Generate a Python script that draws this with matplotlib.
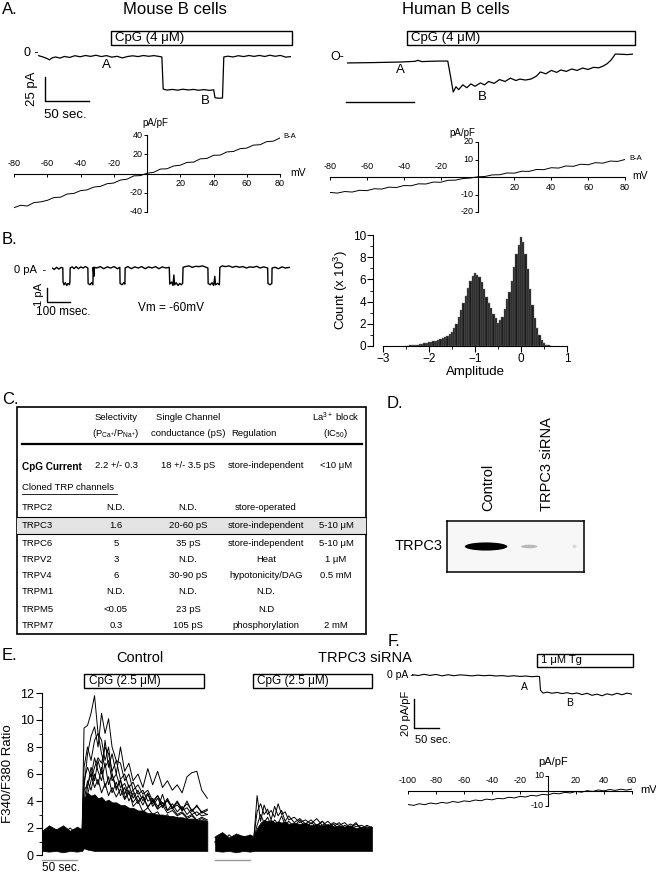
import matplotlib.pyplot as plt
from matplotlib.patches import Rectangle, Ellipse

plt.rcParams['font.family'] = ['Liberation Sans', 'DejaVu Sans']
plt.rcParams['mathtext.fontset'] = 'custom'
plt.rcParams['mathtext.rm'] = 'Liberation Sans'
plt.rcParams['mathtext.it'] = 'Liberation Sans'

# ---- A: whole-cell traces (s, pA) ----
t_mouse = [0, 5, 10, 13, 16, 20, 25, 30, 36, 42, 48, 54, 60, 66, 72, 78, 84, 90, 96, 102, 108, 114, 120,
           126, 132, 138, 141, 142.5, 147, 153, 159, 165, 171, 177, 183, 189, 195, 200, 201.5, 206, 210,
           211.5, 216, 222, 228, 234, 240, 246, 252, 258, 264, 270, 276, 282, 288]
i_mouse = [0.5, -0.8, -2.5, -4.0, -2.0, -1.0, -2.2, -0.5, -1.5, 0.3, -0.8, 0.5, -0.4, 0.8, -0.6, 0.4, -1.2,
           -0.3, -2.0, -0.5, 0.2, -0.6, 0.5, -0.3, 0.4, -0.5, -1.0, -34.5, -35.5, -34.8, -35.6, -34.6, -35.4,
           -34.8, -35.7, -35.0, -35.8, -35.2, -43.5, -44.0, -43.8, -1.0, -0.2, -1.0, 0.3, -0.6, 0.5, -0.4,
           0.6, -0.5, 0.8, -0.3, 0.6, -1.2, -0.6]

t_human = [0, 10, 20, 30, 40, 50, 52, 55, 62, 70, 74, 76, 78, 80, 82, 85, 88, 91, 94, 98, 101, 104, 108,
           112, 116, 120, 124, 127, 131, 135, 139, 142, 146, 150, 154, 157, 161, 165, 169, 173, 177, 181,
           185, 188, 191, 194, 197, 202, 206, 210]
i_human = [-6.2, -6.0, -5.8, -5.5, -5.2, -4.5, -3.5, -4.8, -4.4, -4.2, -4.3, -20, -36.5, -31, -34, -29,
           -32, -28, -30.5, -27, -29, -25.5, -27.5, -23.5, -25.5, -22, -24.5, -23, -24, -23, -20, -15.6,
           -17.5, -14, -16, -13.5, -15, -12.5, -14, -11.5, -13, -10.8, -11.2, -9.5, -7, -3, 3.1, 2.8, 2.5, 3.0]

# ---- A: I-V relations (mV, pA/pF) ----
v_ramp = list(range(-80, 81, 4))
iv_mouse = [-35.5, -33.0, -33.8, -30.2, -29.5, -27.9, -25.0, -24.6, -21.3, -20.7, -17.8, -17.0, -14.1,
            -13.4, -10.6, -9.9, -6.8, -5.9, -2.5, -2.2, 0.3, 1.2, 4.6, 4.9, 7.8, 8.6, 11.5, 11.8, 15.2,
            15.6, 18.9, 19.1, 22.4, 22.9, 25.8, 26.4, 29.5, 29.9, 33.1, 33.6, 37.0]
iv_human = [-8.8, -9.2, -8.3, -8.6, -7.6, -7.8, -6.7, -6.9, -5.8, -6.0, -4.9, -5.0, -3.9, -4.0, -2.9,
            -3.0, -1.9, -1.8, -0.9, -0.6, 0.1, 0.3, 1.2, 1.3, 2.3, 2.2, 3.3, 3.2, 4.3, 4.2, 5.3, 5.1, 6.3,
            6.1, 7.3, 7.0, 8.2, 7.9, 9.1, 8.9, 10.0]

# ---- B: single channel (ms, pA) and amplitude histogram ----
t_single = [0, 10, 20, 30, 40, 47, 48, 52, 58, 64, 70, 76, 78, 79, 88, 96, 105, 115, 125, 135, 145, 156,
            157, 165, 172, 178, 179, 182, 185, 195, 210, 225, 240, 255, 270, 285, 295, 296, 305, 312, 317,
            318, 330, 345, 360, 375, 390, 405, 420, 435, 450, 465, 480, 495, 510, 512, 520, 526, 530, 533,
            540, 548, 555, 562, 568, 570, 580, 595, 610, 625, 640, 655, 670, 678, 679, 688, 696, 703, 708,
            711, 720, 728, 730, 740, 755, 770, 785, 800, 815, 830, 845, 860, 875, 890, 905, 920, 938, 939,
            948, 956, 957, 970, 985, 1000, 1015, 1035]
i_single = [0.0, -0.1, 0.05, -0.08, 0.05, 0.0, -1.0, -1.2, -1.05, -1.25, -1.1, -1.2, -0.95, 0.0, 0.08,
            -0.05, 0.1, -0.05, 0.08, 0.0, 0.1, 0.0, -1.1, -1.2, -1.05, -1.2, 0.05, -0.6, 0.05, 0.0, 0.1,
            -0.05, 0.08, 0.0, 0.1, -0.05, 0.05, -1.1, -1.2, -1.05, -1.15, 0.0, 0.1, -0.05, 0.08, 0.0, 0.1,
            -0.05, 0.08, 0.0, 0.1, -0.05, 0.08, 0.0, 0.05, -1.15, -1.0, -1.25, -0.5, -1.2, -1.05, -1.25,
            -1.1, -1.2, -1.1, 0.05, 0.1, 0.15, 0.05, 0.12, 0.1, 0.15, 0.05, 0.0, -1.1, -1.2, -1.05, -1.25,
            -0.6, -1.2, -1.1, -1.2, 0.05, 0.15, 0.1, 0.15, 0.05, 0.12, 0.05, 0.1, 0.0, 0.08, 0.05, 0.12,
            0.0, 0.08, 0.0, -1.1, -1.2, -1.1, 0.0, 0.05, -0.05, 0.08, 0.0, 0.05]

amp_bins = [-2.50, -2.45, -2.40, -2.35, -2.30, -2.25, -2.20, -2.15, -2.10, -2.05, -2.00, -1.95, -1.90,
            -1.85, -1.80, -1.75, -1.70, -1.65, -1.60, -1.55, -1.50, -1.45, -1.40, -1.35, -1.30, -1.25,
            -1.20, -1.15, -1.10, -1.05, -1.00, -0.95, -0.90, -0.85, -0.80, -0.75, -0.70, -0.65, -0.60,
            -0.55, -0.50, -0.45, -0.40, -0.35, -0.30, -0.25, -0.20, -0.15, -0.10, -0.05, 0.00, 0.05, 0.10,
            0.15, 0.20, 0.25, 0.30, 0.35, 0.40, 0.45, 0.50, 0.55, 0.60, 0.65]
amp_counts = [0.02, 0.03, 0.05, 0.07, 0.09, 0.12, 0.15, 0.19, 0.23, 0.28, 0.33, 0.38, 0.43, 0.48, 0.53,
              0.6, 0.68, 0.78, 0.9, 1.05, 1.3, 1.6, 2.0, 2.6, 3.2, 3.9, 4.5, 5.2, 5.9, 6.3, 6.6, 6.4, 6.2,
              5.8, 5.1, 4.4, 3.9, 3.4, 2.9, 2.5, 2.1, 2.3, 2.6, 3.3, 4.2, 4.9, 5.9, 7.1, 8.3, 9.1, 9.8,
              9.4, 8.3, 6.9, 5.1, 3.7, 2.5, 1.6, 1.0, 0.55, 0.28, 0.12, 0.06, 0.02]

# ---- C: table ----
col_heads = ['Selectivity', 'Single Channel', 'Regulation', 'La$^{3+}$ block']
col_heads2 = ['(P$_{Ca^{+}}$/P$_{Na^{+}}$)', 'conductance (pS)', '', '(IC$_{50}$)']
cpg_row = ['CpG Current', '2.2 +/- 0.3', '18 +/- 3.5 pS', 'store-independent', '<10 \u03bcM']
channels = ['TRPC2', 'TRPC3', 'TRPC6', 'TRPV2', 'TRPV4', 'TRPM1', 'TRPM5', 'TRPM7']
selectivity = ['N.D.', '1.6', '5', '3', '6', 'N.D.', '<0.05', '0.3']
conductance = ['N.D.', '20-60 pS', '35 pS', 'N.D.', '30-90 pS', 'N.D.', '23 pS', '105 pS']
regulation = ['store-operated', 'store-independent', 'store-independent', 'Heat', 'hypotonicity/DAG',
              'N.D.', 'N.D', 'phosphorylation']
la_block = ['', '5-10 \u03bcM', '5-10 \u03bcM', '1 \u03bcM', '0.5 mM', '', '', '2 mM']

# ---- D: western blot band intensity per lane ----
blot_lanes = ['Control', 'TRPC3 siRNA']
band_strength = [1.0, 0.25, 0.12]

# ---- E: Fura-2 ratio traces (s) ----
t_ctrl = [0, 10, 20, 30, 40, 50, 57, 60, 65, 70, 75, 80, 85, 90, 95, 100, 106, 112, 118, 124, 130, 137,
          144, 151, 158, 165, 172, 179, 186, 193, 200, 207, 214, 221, 228, 236]
ctrl_traces = [
    [1.0, 1.2, 0.9, 1.1, 1.0, 1.2, 1.0, 9.4, 9.6, 10.5, 11.8, 9.0, 8.5, 7.0, 8.0, 6.0, 5.0, 5.5, 4.2, 4.8,
     3.6, 4.0, 3.2, 3.5, 3.0, 3.2, 2.6, 3.0, 2.5, 2.8, 2.4, 2.6, 2.2, 2.5, 2.3, 2.4],
    [0.8, 1.5, 1.2, 0.9, 1.4, 1.1, 0.9, 5.0, 7.5, 8.8, 9.5, 8.0, 10.5, 9.0, 10.1, 8.0, 7.0, 6.8, 5.5, 6.0,
     4.8, 5.2, 4.5, 4.8, 4.0, 4.4, 3.8, 4.0, 3.5, 3.7, 3.3, 3.5, 3.0, 3.2, 2.9, 3.0],
    [1.2, 0.9, 1.6, 1.3, 1.0, 1.5, 1.2, 3.5, 5.0, 6.5, 5.5, 7.0, 6.0, 8.5, 6.5, 7.5, 6.0, 8.0, 6.2, 6.8,
     5.5, 6.0, 5.0, 6.4, 5.2, 6.2, 5.0, 5.5, 4.8, 5.2, 4.6, 5.8, 6.1, 6.2, 4.8, 4.2],
    [0.6, 1.0, 0.8, 1.3, 0.7, 0.9, 0.8, 6.5, 8.0, 7.0, 8.5, 9.0, 7.5, 6.5, 7.0, 5.5, 6.0, 5.0, 5.3, 4.5,
     4.8, 4.0, 4.3, 3.6, 4.0, 3.4, 3.7, 3.1, 3.3, 2.9, 3.1, 2.7, 2.9, 2.5, 2.7, 2.5],
    [1.4, 1.1, 1.9, 1.5, 2.0, 1.6, 1.3, 4.0, 5.5, 4.8, 6.0, 5.2, 6.5, 5.0, 5.8, 4.6, 5.4, 4.4, 5.0, 4.0,
     4.6, 3.8, 4.4, 3.5, 4.1, 3.4, 4.5, 3.3, 3.8, 3.2, 3.6, 3.0, 3.4, 2.9, 3.2, 3.0],
    [0.9, 1.3, 1.0, 0.7, 1.2, 0.9, 1.1, 3.0, 4.5, 5.5, 6.5, 7.2, 6.8, 8.0, 7.5, 6.2, 7.0, 5.6, 6.0, 5.0,
     5.4, 4.5, 4.8, 4.0, 4.2, 3.6, 3.9, 3.3, 3.5, 3.0, 3.2, 2.8, 3.0, 2.6, 2.8, 2.6],
    [1.5, 1.8, 1.3, 1.9, 1.4, 1.7, 1.5, 5.5, 6.5, 5.8, 7.2, 6.2, 5.5, 6.8, 5.2, 6.0, 4.8, 5.6, 4.5, 5.2,
     4.2, 4.8, 4.0, 4.6, 3.8, 4.4, 3.6, 4.2, 3.5, 4.0, 3.4, 3.8, 3.3, 3.6, 3.2, 3.4],
    [1.1, 1.4, 1.7, 1.2, 1.6, 1.3, 1.2, 4.8, 5.2, 6.0, 5.0, 5.6, 4.6, 5.3, 4.4, 5.0, 4.3, 4.9, 4.1, 4.6,
     3.9, 4.4, 3.7, 4.5, 3.6, 4.2, 3.5, 4.1, 3.4, 3.9, 3.3, 4.0, 3.2, 3.7, 3.1, 3.3],
]
ctrl_upper = [1.8, 2.2, 1.9, 2.2, 1.8, 2.1, 1.9, 4.2, 4.6, 4.4, 4.5, 4.2, 4.3, 4.0, 4.1, 3.9, 3.9, 3.7,
              3.7, 3.5, 3.5, 3.3, 3.3, 3.1, 3.1, 3.0, 3.0, 2.9, 2.9, 2.8, 2.8, 2.7, 2.7, 2.6, 2.6, 2.5]
ctrl_lower = [0.3, 0.25, 0.3, 0.2, 0.3, 0.25, 0.3, 0.5, 0.4, 0.35, 0.3, 0.3, 0.3, 0.3, 0.3, 0.3, 0.3, 0.3,
              0.3, 0.3, 0.3, 0.3, 0.3, 0.3, 0.3, 0.3, 0.3, 0.3, 0.3, 0.3, 0.3, 0.3, 0.3, 0.3, 0.3, 0.3]

t_si = [247, 257, 267, 277, 287, 297, 302, 307, 312, 317, 322, 327, 332, 337, 342, 347, 352, 360, 368,
        376, 384, 392, 400, 408, 416, 424, 432, 440, 448, 456, 464, 471]
si_traces = [
    [1.0, 1.2, 0.9, 1.1, 1.0, 1.2, 1.0, 4.4, 2.5, 3.7, 3.0, 3.3, 2.8, 3.8, 3.0, 3.2, 2.6, 2.8, 2.4, 2.6,
     2.3, 2.7, 2.2, 2.5, 2.1, 2.4, 2.0, 2.3, 2.1, 2.2, 2.0, 2.1],
    [1.3, 0.9, 1.5, 1.0, 1.4, 1.1, 1.2, 3.2, 3.8, 3.0, 3.4, 2.6, 3.6, 2.9, 3.3, 2.5, 2.9, 2.4, 2.7, 2.3,
     2.6, 2.2, 2.5, 2.1, 2.4, 2.2, 2.4, 2.0, 2.3, 2.0, 2.2, 2.0],
    [0.9, 1.4, 1.1, 1.3, 0.8, 1.5, 1.1, 2.2, 3.0, 2.4, 2.8, 2.2, 2.6, 2.3, 2.9, 2.2, 2.5, 2.1, 2.6, 2.0,
     2.4, 2.1, 2.5, 2.0, 2.3, 1.9, 2.2, 2.0, 2.4, 1.9, 2.1, 1.9],
]
si_upper = [1.4, 1.7, 1.3, 1.6, 1.4, 1.5, 1.4, 2.0, 2.4, 2.6, 2.5, 2.6, 2.4, 2.5, 2.4, 2.5, 2.3, 2.4, 2.3,
            2.4, 2.2, 2.3, 2.2, 2.3, 2.1, 2.2, 2.1, 2.2, 2.0, 2.1, 2.0, 2.1]
si_lower = [0.3, 0.25, 0.3, 0.2, 0.3, 0.25, 0.3, 0.3, 0.3, 0.3, 0.3, 0.3, 0.3, 0.3, 0.3, 0.3, 0.3, 0.3,
            0.3, 0.3, 0.3, 0.3, 0.3, 0.3, 0.3, 0.3, 0.3, 0.3, 0.3, 0.3, 0.3, 0.3]

# ---- F: thapsigargin trace (s, pA/pF) and I-V ----
t_tg = [0, 12, 24, 36, 48, 60, 72, 84, 96, 108, 120, 132, 144, 156, 168, 180, 192, 204, 216, 228, 240,
        250, 255, 257, 262, 270, 280, 290, 300, 310, 320, 330, 340, 350, 360, 370, 380, 390, 400, 410,
        420, 430, 440]
i_tg = [0.3, -0.4, 0.5, -0.3, 0.4, -0.6, 0.2, -0.5, 0.1, -0.2, -0.6, -0.1, -0.5, -0.2, -0.7, -0.4, -0.9,
        -0.5, -1.0, -0.7, -1.2, -0.9, -1.1, -10.5, -12.5, -11.8, -12.6, -12.0, -12.8, -12.2, -13.0, -12.4,
        -13.5, -12.6, -14.0, -13.2, -14.3, -13.0, -13.8, -12.6, -13.6, -12.5, -13.2]
v_tg = list(range(-100, 61, 4))
iv_tg = [-9.0, -9.6, -8.5, -9.1, -8.0, -8.6, -7.6, -8.1, -7.0, -7.6, -6.6, -7.0, -6.0, -6.5, -5.4, -5.9,
         -4.9, -5.2, -4.2, -4.6, -3.6, -4.0, -2.9, -3.3, -2.2, -2.6, -1.5, -1.9, -0.9, -1.3, -0.3, -0.8,
         0.2, -0.3, 0.7, 0.1, 1.0, 0.4, 1.2, 0.6, 1.3]

W, H = 656, 874
fig = plt.figure(figsize=(W / 100, H / 100), dpi=100)

ov = fig.add_axes([0, 0, 1, 1])
ov.set_xlim(0, W)
ov.set_ylim(H, 0)
ov.axis('off')


def px_axes(x0, y0, x1, y1):
    return fig.add_axes([x0 / W, 1 - y1 / H, (x1 - x0) / W, (y1 - y0) / H])


def txt(x, y, s, size=9, ha='left', va='center', **kw):
    ov.text(x, y, s, fontsize=size, ha=ha, va=va, **kw)


def box(x0, y0, x1, y1, lw=1.0):
    ov.add_patch(Rectangle((x0, y0), x1 - x0, y1 - y0, fill=False, lw=lw, ec='black'))


def iv_panel(rect, volts, amps, xlim, ylim, xticks, yticks, all_above=False):
    ax = px_axes(*rect)
    ax.plot(volts, amps, color='black', lw=0.7)
    ax.set_xlim(xlim)
    ax.set_ylim(ylim)
    ax.patch.set_visible(False)
    for s in ['top', 'right']:
        ax.spines[s].set_visible(False)
    for s in ['left', 'bottom']:
        ax.spines[s].set_position(('data', 0))
        ax.spines[s].set_linewidth(0.8)
    ax.set_xticks(xticks)
    ax.set_yticks(yticks)
    ax.set_xticklabels([])
    ax.set_yticklabels([])
    ax.tick_params(length=2.5, width=0.7)
    for v in xticks:
        above = all_above or v < 0
        ax.annotate(str(v), (v, 0), xytext=(0, 4 if above else -4), textcoords='offset points',
                    ha='center', va='bottom' if above else 'top', fontsize=6.5)
    for v in yticks:
        ax.annotate(str(v), (0, v), xytext=(-3, 0), textcoords='offset points',
                    ha='right', va='center', fontsize=6.5)
    return ax


# ================= A =================
txt(2, 9, 'A.', 12)
txt(175, 9, 'Mouse B cells', 12, ha='center')
txt(456, 10, 'Human B cells', 12, ha='center')

box(111, 31, 292, 45)
txt(115, 38, 'CpG (4 \u03bcM)', 9.5)
box(407, 31, 635, 45)
txt(411, 38, 'CpG (4 \u03bcM)', 9.5)

ax = px_axes(38, 46.4, 291, 104)
ax.plot(t_mouse, i_mouse, color='black', lw=0.9)
ax.plot([8, 8, 58], [-22, -47, -47], color='black', lw=1, clip_on=False)
ax.set_xlim(0, 288)
ax.set_ylim(-50, 10)
ax.axis('off')
txt(24, 53, '0 -', 9)
txt(106, 65, 'A', 9.5, ha='center')
txt(205, 101, 'B', 9.5, ha='center')
txt(32, 89, '25 pA', 9.5, ha='center', rotation=90)
txt(44, 115, '50 sec.', 9.5)

ax = px_axes(347, 47.4, 633, 105)
ax.plot(t_human, i_human, color='black', lw=0.9)
ax.plot([-1, 49], [-46.9, -46.9], color='black', lw=1, clip_on=False)
ax.set_xlim(0, 210)
ax.set_ylim(-50, 10)
ax.axis('off')
txt(330, 57, 'O-', 9)
txt(400, 70, 'A', 9.5, ha='center')
txt(482, 97, 'B', 9.5, ha='center')

ticks_mv = [-80, -60, -40, -20, 20, 40, 60, 80]
iv_panel((14, 135, 280, 212), v_ramp, iv_mouse, (-80, 80), (-40, 40), ticks_mv, [-40, -20, 20, 40])
txt(155, 123, 'pA/pF', 7, ha='center')
txt(290, 173, 'mV', 7.5)
txt(283, 136, 'B-A', 5.5)

iv_panel((330, 142, 625, 212), v_ramp, iv_human, (-80, 80), (-20, 20), ticks_mv, [-20, -10, 10, 20])
txt(462, 133, 'pA/pF', 7, ha='center')
txt(632, 176, 'mV', 7.5)
txt(629, 159, 'B-A', 5.5)

# ================= B =================
txt(2, 240, 'B.', 12)
ax = px_axes(52, 254, 290, 310)
ax.plot(t_single, i_single, color='black', lw=1.0)
ax.plot([-22, -22, 78], [-1.43, -2.43, -2.43], color='black', lw=1, clip_on=False)
ax.set_xlim(0, 1035)
ax.set_ylim(-3, 1)
ax.axis('off')
txt(14, 270, '0 pA  -', 8)
txt(39, 295, '1 pA', 8, ha='center', rotation=90)
txt(36, 312, '100 msec.', 8.5)
txt(138, 308, 'Vm = -60mV', 8.5)

ax = px_axes(383, 235, 567, 346)
ax.bar(amp_bins, amp_counts, width=0.05, color='#1c1c1c', edgecolor='#7a7a7a', linewidth=0.3)
ax.set_xlim(-3, 1)
ax.set_ylim(0, 10)
for s in ['top', 'right']:
    ax.spines[s].set_visible(False)
ax.spines['left'].set_position(('outward', 7))
ax.set_xticks([-3, -2, -1, 0, 1])
ax.set_xticks([-2.5, -1.5, -0.5, 0.5], minor=True)
ax.set_yticks([0, 2, 4, 6, 8, 10])
ax.set_yticks([1, 3, 5, 7, 9], minor=True)
ax.tick_params(labelsize=8.5, length=4, width=0.8, pad=1)
ax.tick_params(which='minor', length=2, width=0.6)
ax.set_xlabel('Amplitude', fontsize=9.5, labelpad=1)
ax.set_ylabel('Count (x 10$^{3}$)', fontsize=9.5, labelpad=2)

# ================= C =================
txt(2, 400, 'C.', 12)
box(17, 407, 366, 634, lw=1.2)
col_x = [116, 188, 266, 336]
for x, h1, h2 in zip(col_x, col_heads, col_heads2):
    if h2:
        txt(x, 417, h1, 6.8, ha='center')
        txt(x, 433, h2, 6.8, ha='center')
    else:
        txt(x - 12, 433, h1, 6.8, ha='center')
ov.plot([22, 362], [444, 444], color='black', lw=1.6)
txt(22, 467, cpg_row[0], 7.2, weight='bold')
for x, s in zip(col_x, cpg_row[1:]):
    txt(x, 466, s, 6.8, ha='center')
txt(22, 488, 'Cloned TRP channels', 6.8)
ov.plot([22, 117], [494, 494], color='black', lw=0.6)
ov.add_patch(Rectangle((17, 517), 349, 17, facecolor='#e4e4e4', edgecolor='none'))
ov.plot([17, 366], [517, 517], color='black', lw=0.8)
ov.plot([17, 366], [534, 534], color='black', lw=0.8)
row_y = [508, 526, 543, 559, 576, 592, 609, 625]
for y, name, a, b, c, d in zip(row_y, channels, selectivity, conductance, regulation, la_block):
    txt(22, y, name, 6.8)
    for x, s in zip(col_x, [a, b, c, d]):
        txt(x, y, s, 6.8, ha='center')

# ================= D =================
txt(387, 404, 'D.', 12)
txt(488, 511, blot_lanes[0], 10.5, ha='center', va='bottom', rotation=90)
txt(547, 511, blot_lanes[1], 10.5, ha='center', va='bottom', rotation=90)
txt(443, 546, 'TRPC3', 10.5, ha='right')
ax = px_axes(447, 521, 584, 572)
ax.set_xlim(0, 1)
ax.set_ylim(0, 1)
ax.set_facecolor('#f7f7f7')
ax.set_xticks([])
ax.set_yticks([])
for s in ax.spines.values():
    s.set_linewidth(1.1)
band_x = [0.285, 0.6, 0.93]
band_w = [0.31, 0.12, 0.03]
for bx, bw, st in zip(band_x, band_w, band_strength):
    ax.add_patch(Ellipse((bx, 0.5), bw, 0.16 if st > 0.5 else 0.07, color='black', alpha=st, lw=0))

# ================= E =================
txt(2, 656, 'E.', 12)
txt(140, 658, 'Control', 10.5, ha='center')
txt(365, 658, 'TRPC3 siRNA', 10.5, ha='center')
box(84, 674, 204, 688)
txt(89, 681, 'CpG (2.5 \u03bcM)', 8.5)
box(253, 674, 372, 688)
txt(257, 681, 'CpG (2.5 \u03bcM)', 8.5)

ax = px_axes(42, 693, 372, 855)
ax.fill_between(t_ctrl, ctrl_lower, ctrl_upper, color='black', lw=0.5)
for tr in ctrl_traces:
    ax.plot(t_ctrl, tr, color='black', lw=0.7)
ax.fill_between(t_si, si_lower, si_upper, color='black', lw=0.5)
for tr in si_traces:
    ax.plot(t_si, tr, color='black', lw=0.7)
ax.plot([0, 50], [-0.37, -0.37], color='#9a9a9a', lw=1, clip_on=False)
ax.plot([247, 297], [-0.37, -0.37], color='#9a9a9a', lw=1, clip_on=False)
ax.set_xlim(0, 471)
ax.set_ylim(0, 12)
for s in ['top', 'right', 'bottom']:
    ax.spines[s].set_visible(False)
ax.patch.set_visible(False)
ax.set_xticks([])
ax.set_yticks([0, 2, 4, 6, 8, 10, 12])
ax.set_yticks([1, 3, 5, 7, 9, 11], minor=True)
ax.tick_params(labelsize=9, length=4, width=0.8, pad=2)
ax.tick_params(which='minor', length=2, width=0.6)
ax.set_ylabel('F340/F380 Ratio', fontsize=9.5, labelpad=4)
txt(42, 868, '50 sec.', 8.5)

# ================= F =================
txt(388, 641, 'F.', 12)
box(537, 654, 633, 667)
txt(541, 660, '1 \u03bcM Tg', 8)
ax = px_axes(412, 667.75, 632, 711.25)
ax.plot(t_tg, i_tg, color='black', lw=0.8)
ax.plot([4, 4, 54], [-16.6, -36.6, -36.6], color='black', lw=1, clip_on=False)
ax.set_xlim(0, 440)
ax.set_ylim(-25, 5)
ax.axis('off')
txt(387, 675, '0 pA -', 7.5)
txt(524, 687, 'A', 7.5, ha='center')
txt(570, 703, 'B', 7.5, ha='center')
txt(406, 713, '20 pA/pF', 8, ha='center', rotation=90)
txt(415, 740, '50 sec.', 8)

iv_panel((408, 776, 632, 806), v_tg, iv_tg, (-100, 60), (-10, 10),
         [-100, -80, -60, -40, -20, 20, 40, 60], [-10, 10], all_above=True)
txt(553, 762, 'pA/pF', 8, ha='center')
txt(640, 790, 'mV', 8)

fig.savefig('out.png', dpi=100)
